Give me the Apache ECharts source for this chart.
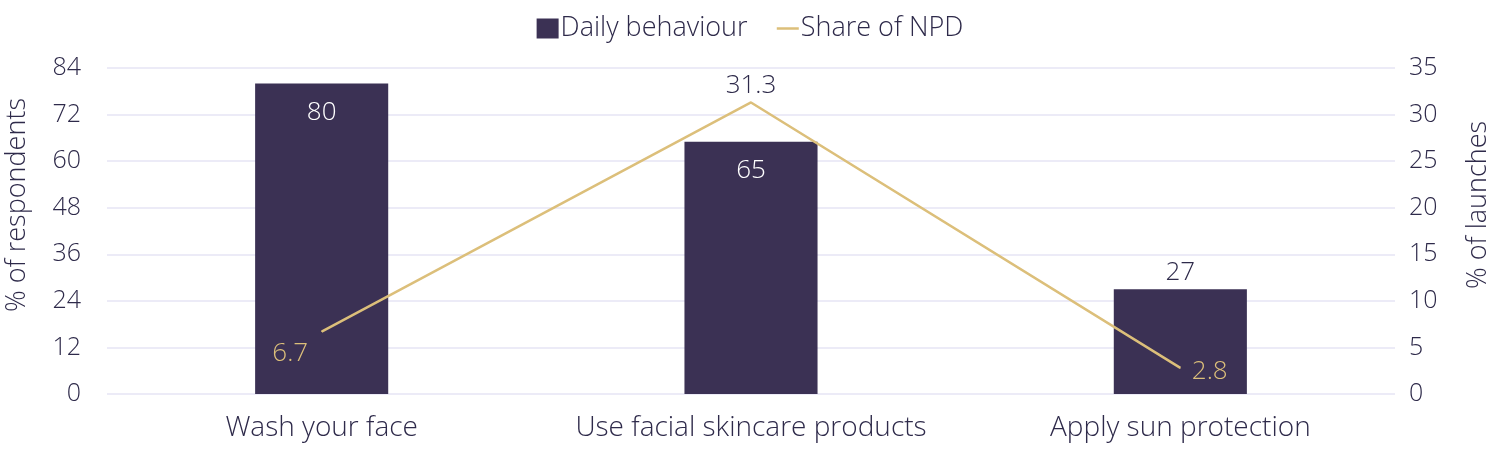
<!DOCTYPE html>
<html>
<head>
<meta charset="utf-8">
<script src="https://cdn.jsdelivr.net/npm/echarts@6/dist/echarts.min.js"></script>
<style>
  html, body { margin: 0; padding: 0; background: #fff; }
  #chart { width: 1500px; height: 452px; }
</style>
</head>
<body>
<div id="chart"></div>
<script>
const categories = ['Wash your face', 'Use facial skincare products', 'Apply sun protection']
const dailyBehaviour = [80, 65, 27]
const shareOfNpd = [6.7, 31.3, 2.8]

const textColor = '#2e2a4a'
const barColor = '#3b3154'
const lineColor = '#dcbf7a'
const font = 'Open Sans'

const chart = echarts.init(document.getElementById('chart'))

// first two bar labels sit inside the bar, the last one above it
const barData = dailyBehaviour.map((v, i) => ({
  value: v,
  label: i < 2
    ? { position: 'insideTop', color: '#fff', distance: 16 }
    : { position: 'top', color: textColor, distance: 4 },
}))
const linePos = ['left', 'top', 'right']
const lineOffsets = [[-8, 22], [0, 2], [6, 4]]
const lineData = shareOfNpd.map((v, i) => ({
  value: v,
  label: {
    position: linePos[i],
    offset: lineOffsets[i],
    color: i === 1 ? textColor : lineColor,
  },
}))

chart.setOption({
  textStyle: { fontFamily: font, fontWeight: 300 },
  legend: {
    top: 10,
    left: 'center',
    itemGap: 28,
    itemWidth: 22,
    itemHeight: 20,
    textStyle: { fontSize: 27, color: textColor, fontFamily: font, fontWeight: 300, padding: [0, 0, 0, -3] },
    data: [
      { name: 'Daily behaviour', icon: 'rect' },
      { name: 'Share of NPD', itemStyle: { color: 'rgba(0,0,0,0)', borderWidth: 0 }, lineStyle: { color: lineColor, width: 2.5 } },
    ],
  },
  grid: { left: 107, right: 105, top: 68, bottom: 58, outerBoundsMode: 'none', containLabel: false },
  xAxis: {
    type: 'category',
    data: categories,
    axisLine: { show: false },
    axisTick: { show: false },
    axisLabel: { interval: 0, fontSize: 28, color: textColor, margin: 20, fontFamily: font, fontWeight: 300 },
  },
  yAxis: [
    {
      type: 'value',
      min: 0,
      max: 84,
      interval: 12,
      name: '% of respondents',
      nameLocation: 'middle',
      nameGap: 76,
      nameTextStyle: { fontSize: 27, color: textColor, fontFamily: font, fontWeight: 300, padding: [0, 0, 0, 52] },
      axisLabel: { fontSize: 25, color: textColor, margin: 26, fontFamily: font, fontWeight: 300 },
      splitLine: { lineStyle: { color: '#e6e4f5', width: 1.5 } },
      axisLine: { show: false },
      axisTick: { show: false },
    },
    {
      type: 'value',
      min: 0,
      max: 35,
      interval: 5,
      name: '% of launches',
      nameLocation: 'middle',
      nameGap: 70,
      nameRotate: 90,
      nameTextStyle: { fontSize: 27, color: textColor, fontFamily: font, fontWeight: 300, padding: [0, 0, 0, 52] },
      axisLabel: { fontSize: 25, color: textColor, margin: 14, fontFamily: font, fontWeight: 300 },
      splitLine: { show: false },
      axisLine: { show: false },
      axisTick: { show: false },
    },
  ],
  series: [
    {
      name: 'Daily behaviour',
      type: 'bar',
      barWidth: '31%',
      data: barData,
      itemStyle: { color: barColor },
      label: { show: true, fontSize: 26, fontFamily: font, fontWeight: 300 },
    },
    {
      name: 'Share of NPD',
      type: 'line',
      yAxisIndex: 1,
      data: lineData,
      symbol: 'circle',
      symbolSize: 1,
      showSymbol: true,
      lineStyle: { color: lineColor, width: 2.5 },
      itemStyle: { color: lineColor },
      label: { show: true, fontSize: 26, fontFamily: font, fontWeight: 300 },
    },
  ],
})
</script>
</body>
</html>
